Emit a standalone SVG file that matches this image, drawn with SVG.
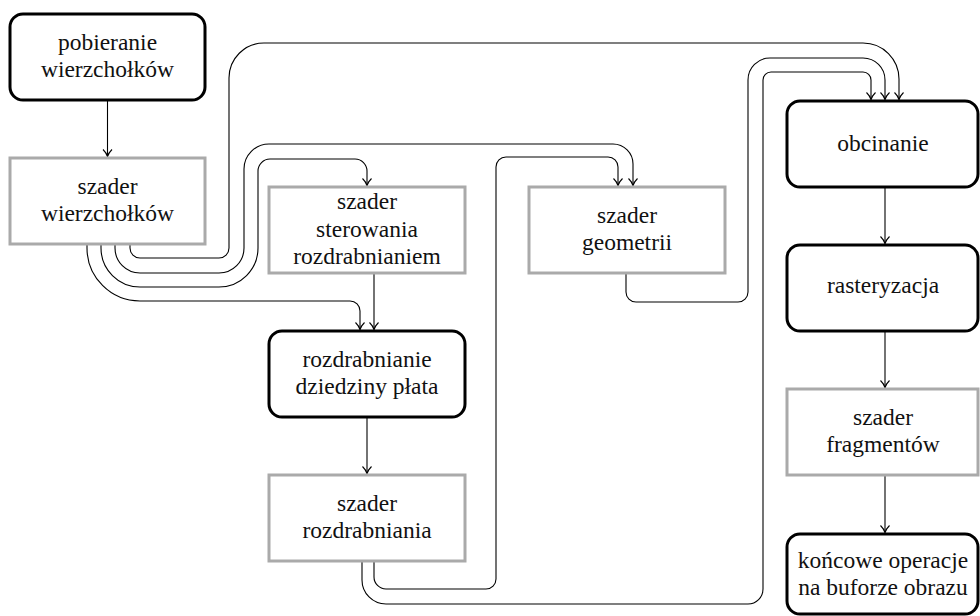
<svg xmlns="http://www.w3.org/2000/svg" width="980" height="616" viewBox="0 0 980 616">
<defs>
<style>
.fixed{fill:#fff;stroke:#000;stroke-width:3}
.shader{fill:#fff;stroke:#aaaaaa;stroke-width:3}
.wire{fill:none;stroke:#000;stroke-width:1.1;marker-end:url(#arr)}
</style>
<marker id="arr" viewBox="-10 -6 12 12" refX="0" refY="0" markerWidth="12" markerHeight="12" markerUnits="userSpaceOnUse" orient="auto">
<path d="M-7,-4.5 C-4.5,-2 -2,-0.6 0,0 C-2,0.6 -4.5,2 -7,4.5" fill="none" stroke="#000" stroke-width="1.1"/>
</marker>
</defs>
<rect width="980" height="616" fill="#fff"/>
<g id="connectors">
<path class="wire" d="M107.5,100 V156.5"/>
<path class="wire" d="M374,273 V329.5"/>
<path class="wire" d="M367,417 V473.5"/>
<path class="wire" d="M885,187 V243.5"/>
<path class="wire" d="M885,331 V387.5"/>
<path class="wire" d="M885,475 V532.5"/>
<path class="wire" d="M130,244 V248 A10,10 0 0 0 140,258 H219 A10,10 0 0 0 229,248 V78 A35,35 0 0 1 264,43 H863 A36,36 0 0 1 899,79 V99.5"/>
<path class="wire" d="M115,244 V248 A25,25 0 0 0 140,273 H219 A25,25 0 0 0 244,248 V169 A25,25 0 0 1 269,144 H613 A20,20 0 0 1 633,164 V185.5"/>
<path class="wire" d="M101,244 V248 A39,39 0 0 0 140,287 H219 A39,39 0 0 0 258,248 V171 A12,12 0 0 1 270,159 H355 A12,12 0 0 1 367,171 V185.5"/>
<path class="wire" d="M87,244 V248 A53,53 0 0 0 140,301 H350 A10,10 0 0 1 360,311 V329.5"/>
<path class="wire" d="M374,561 V577 A12,12 0 0 0 386,589 H486 A10,10 0 0 0 496,579 V167 A10,10 0 0 1 506,157 H608 A10,10 0 0 1 618,167 V185.5"/>
<path class="wire" d="M362,561 V580 A24,24 0 0 0 386,604 H748 A15,15 0 0 0 763,589 V80 A8,8 0 0 1 771,72 H863 A8,8 0 0 1 871,80 V99.5"/>
<path class="wire" d="M626,273 V292 A10,10 0 0 0 636,302 H738 A10,10 0 0 0 748,292 V80 A22,22 0 0 1 770,58 H863 A22,22 0 0 1 885,80 V99.5"/>
</g>
<g font-family="Liberation Serif, DejaVu Serif, serif" font-size="23.5" fill="#111" text-anchor="middle">
<g id="n1"><rect class="fixed" x="10" y="14" width="195" height="86" rx="13"/><text x="107.5" y="50">pobieranie</text><text x="107.5" y="77">wierzchołków</text></g>
<g id="n2"><rect class="shader" x="10" y="158" width="195" height="86"/><text x="107.5" y="194">szader</text><text x="107.5" y="221">wierzchołków</text></g>
<g id="n3"><rect class="shader" x="269" y="187" width="196" height="86"/><text x="367" y="209">szader</text><text x="367" y="236.5">sterowania</text><text x="367" y="264">rozdrabnianiem</text></g>
<g id="n4"><rect class="fixed" x="269" y="331" width="196" height="86" rx="13"/><text x="367" y="367">rozdrabnianie</text><text x="367" y="394">dziedziny płata</text></g>
<g id="n5"><rect class="shader" x="269" y="475" width="196" height="86"/><text x="367" y="511">szader</text><text x="367" y="538">rozdrabniania</text></g>
<g id="n6"><rect class="shader" x="529" y="187" width="196" height="86"/><text x="627" y="223">szader</text><text x="627" y="250">geometrii</text></g>
<g id="n7"><rect class="fixed" x="787" y="101" width="191" height="86" rx="13"/><text x="883" y="150.5">obcinanie</text></g>
<g id="n8"><rect class="fixed" x="787" y="245" width="191" height="86" rx="13"/><text x="883" y="293">rasteryzacja</text></g>
<g id="n9"><rect class="shader" x="787" y="389" width="191" height="86"/><text x="883" y="425">szader</text><text x="883" y="452">fragmentów</text></g>
<g id="n10"><rect class="fixed" x="787" y="534" width="191" height="80" rx="13"/><text x="883" y="568">końcowe operacje</text><text x="883" y="595">na buforze obrazu</text></g>
</g>
</svg>
